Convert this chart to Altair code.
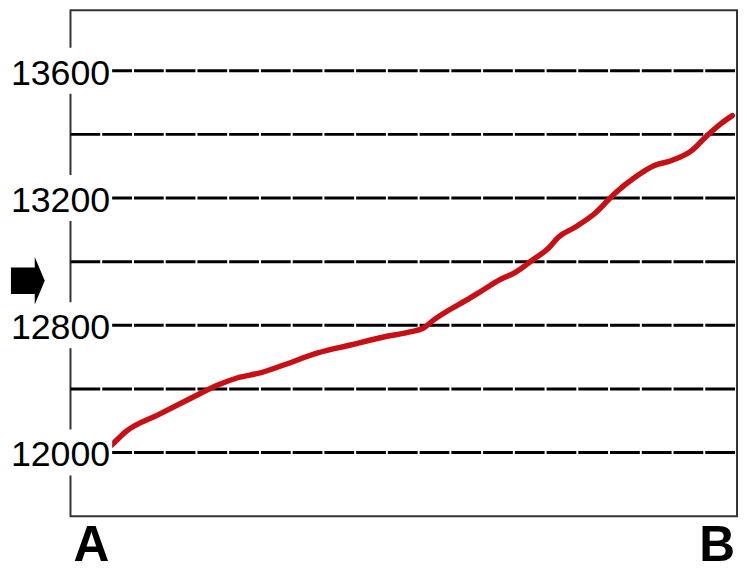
import altair as alt
import pandas as pd

# Line series (x position along A..B, value)
x_pos = [0, 6.1, 8.3, 13.2, 18.2, 22.2, 25.1, 28.6, 32.1, 37.1,
         42.0, 47.0, 50.9, 53.0, 54.5, 56.8, 59.4, 61.9, 64.3, 66.8,
         69.3, 71.7, 73.2, 75.7, 78.7, 81.7, 84.7, 87.6, 90.2, 93.2,
         95.5, 97.6, 99.3]
values = [12340, 12422, 12466, 12519, 12572, 12613, 12635, 12651, 12676, 12713,
          12738, 12763, 12779, 12792, 12817, 12848, 12879, 12911, 12942, 12967,
          13005, 13042, 13077, 13108, 13152, 13215, 13265, 13302, 13318, 13349,
          13396, 13434, 13459]

grid_values = [12400, 12600, 12800, 13000, 13200, 13400, 13600]
label_values = [13600, 13200, 12800, 12400]
label_texts = ["13600", "13200", "12800", "12000"]
arrow_value = [12940]
x_label_pos = [0, 100]
x_label_texts = ["A", "B"]
x_label_align = ["left", "right"]

W, H = 672, 510
xs = alt.Scale(domain=[0, 100])
ys = alt.Scale(domain=[12200, 13790])

line_df = pd.DataFrame({"x": x_pos, "v": values})
grid_df = pd.DataFrame({"v": grid_values})
lab_df = pd.DataFrame({"v": label_values, "t": label_texts})
arrow_df = pd.DataFrame({"v": arrow_value})
xl_df = pd.DataFrame({"x": x_label_pos, "t": x_label_texts, "a": x_label_align})

grid = alt.Chart(grid_df).mark_rule(
    color="black", strokeWidth=3, strokeDash=[30, 2]
).encode(
    y=alt.Y("v:Q", scale=ys, axis=None),
    x=alt.value(0), x2=alt.value(W),
)

line = alt.Chart(line_df).mark_line(
    color="#c80f14", strokeWidth=5.5, strokeJoin="round", strokeCap="round",
    interpolate="monotone",
).encode(
    x=alt.X("x:Q", scale=xs, axis=None),
    y=alt.Y("v:Q", scale=ys, axis=None),
)

bg = alt.Chart(lab_df).transform_calculate(
    lo="datum.v - 72", hi="datum.v + 72"
).mark_rect(color="white").encode(
    y=alt.Y("lo:Q", scale=ys, axis=None),
    y2="hi:Q",
    x=alt.value(-63), x2=alt.value(42),
)

labels = alt.Chart(lab_df).mark_text(
    font="Liberation Sans", fontSize=36, color="black",
    align="right", baseline="middle", dy=3,
).encode(
    y=alt.Y("v:Q", scale=ys, axis=None),
    x=alt.value(40),
    text="t:N",
)

arrow_shape = "M-0.71,-0.56L0.29,-0.56L0.29,-1L0.71,0L0.29,1L0.29,0.56L-0.71,0.56Z"
arrow = alt.Chart(arrow_df).mark_point(
    shape=arrow_shape, filled=True, color="black", opacity=1, size=2304, strokeWidth=0,
).encode(
    y=alt.Y("v:Q", scale=ys, axis=None),
    x=alt.value(-43),
)

xl_left = alt.Chart(xl_df).transform_filter("datum.a == 'left'").mark_text(
    font="Liberation Sans", fontSize=50, fontWeight="bold", color="black",
    align="left", baseline="alphabetic", dx=3,
).encode(
    x=alt.X("x:Q", scale=xs, axis=None),
    y=alt.value(555),
    text="t:N",
)
xl_right = alt.Chart(xl_df).transform_filter("datum.a == 'right'").mark_text(
    font="Liberation Sans", fontSize=50, fontWeight="bold", color="black",
    align="right", baseline="alphabetic", dx=-2,
).encode(
    x=alt.X("x:Q", scale=xs, axis=None),
    y=alt.value(555),
    text="t:N",
)

chart = alt.layer(grid, line, bg, labels, arrow, xl_left, xl_right).properties(
    width=W, height=H,
    autosize=alt.AutoSizeParams(type="none"),
    padding={"left": 63, "top": 0, "right": 2, "bottom": 56},
    background="white",
).configure_view(stroke="#333333", strokeWidth=2)

chart.save("out.html", embed_options={"renderer": "svg", "actions": False})
